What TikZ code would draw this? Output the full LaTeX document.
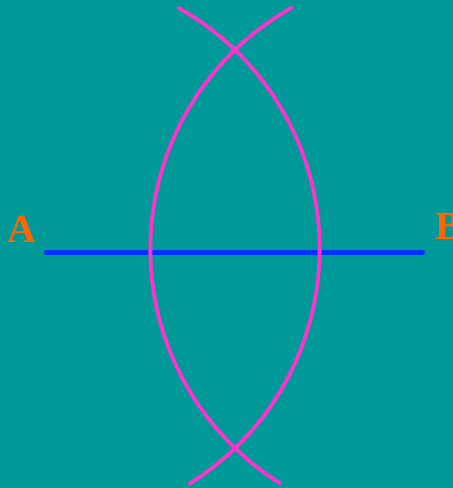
\documentclass[tikz,border=0pt]{standalone}
\usepackage{fontspec}
\setmainfont{Liberation Serif}
\usetikzlibrary{calc}
\definecolor{bgteal}{HTML}{009999}
\definecolor{arcpink}{HTML}{FF33CC}
\definecolor{segblue}{HTML}{0033FF}
\definecolor{lblorange}{HTML}{FF6600}
\begin{document}
\begin{tikzpicture}[x=1pt,y=1pt,
  arcline/.style={draw=arcpink,line width=3.8pt,line cap=round},
  segline/.style={draw=segblue,line width=4.2pt,line cap=round},
  ptlabel/.style={text=lblorange,font=\fontsize{40}{40}\selectfont\bfseries,inner sep=0pt,anchor=base west}]
\fill[bgteal] (0,0) rectangle (453,488);
\useasboundingbox (0,0) rectangle (453,488);
\coordinate (A) at (46,235.5);
\coordinate (B) at (423,235.5);
\coordinate (cA) at (43,239);
\coordinate (cB) at (427,239);
\draw[segline] (A) -- (B);
\draw[arcline] ($(cB)+(119.3:276.6pt)$) arc[start angle=119.3,end angle=237.9,radius=276.6pt];
\draw[arcline] ($(cA)+(-58:276.6pt)$) arc[start angle=-58,end angle=60.7,radius=276.6pt];
\node[ptlabel] (la) at (7.5,245) {A};
\node[ptlabel] (lb) at (435.5,248) {B};
\end{tikzpicture}
\end{document}
